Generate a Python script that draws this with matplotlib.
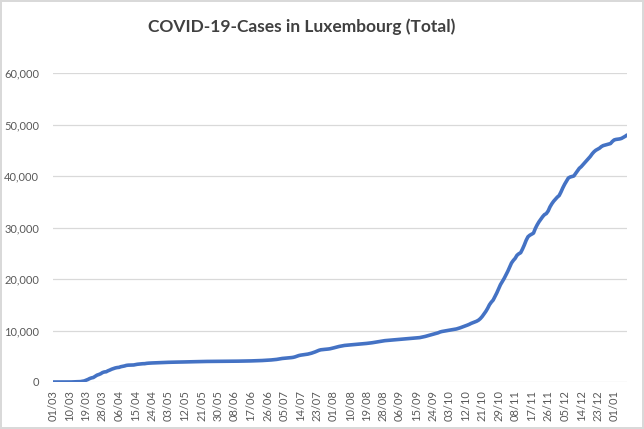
import matplotlib
matplotlib.use("Agg")
import matplotlib.pyplot as plt
import numpy as np
from matplotlib.ticker import FuncFormatter

title = "COVID-19-Cases in Luxembourg (Total)"

# Cumulative cases per reported day (one category per row, 01/03/2020 .. 08/01/2021)
cases = [
    0, 0, 1, 1, 2, 3, 4, 5, 5, 7,
    7, 26, 34, 51, 59, 77, 140, 203, 335, 484,
    670, 798, 875, 1099, 1333, 1453, 1605, 1831, 1950, 1988,
    2178, 2319, 2487, 2612, 2729, 2804, 2843, 2970, 3034, 3115,
    3223, 3270, 3281, 3292, 3307, 3373, 3444, 3480, 3537, 3550,
    3558, 3618, 3654, 3665, 3695, 3711, 3723, 3729, 3741, 3769,
    3784, 3802, 3812, 3824, 3828, 3840, 3851, 3859, 3871, 3877,
    3886, 3888, 3894, 3904, 3915, 3923, 3930, 3945, 3947, 3958,
    3971, 3980, 3981, 3990, 3993, 3995, 4001, 4008, 4012, 4016,
    4018, 4019, 4020, 4024, 4027, 4032, 4035, 4039, 4040, 4040,
    4046, 4048, 4052, 4055, 4061, 4065, 4075, 4085, 4095, 4104,
    4110, 4120, 4133, 4150, 4170, 4188, 4210, 4230, 4256, 4280,
    4310, 4345, 4390, 4450, 4520, 4570, 4600, 4630, 4660, 4700,
    4740, 4790, 4880, 5000, 5130, 5210, 5260, 5300, 5350, 5420,
    5500, 5600, 5720, 5850, 6000, 6150, 6250, 6300, 6330, 6360,
    6400, 6450, 6530, 6620, 6720, 6820, 6900, 6970, 7050, 7100,
    7140, 7170, 7200, 7230, 7260, 7290, 7320, 7350, 7380, 7410,
    7450, 7490, 7530, 7570, 7620, 7680, 7740, 7800, 7860, 7930,
    7990, 8030, 8060, 8090, 8120, 8150, 8180, 8200, 8230, 8260,
    8290, 8320, 8350, 8380, 8410, 8440, 8470, 8500, 8530, 8570,
    8620, 8690, 8760, 8850, 8950, 9050, 9150, 9250, 9350, 9450,
    9550, 9700, 9800, 9870, 9930, 9990, 10050, 10100, 10160, 10230,
    10300, 10400, 10520, 10650, 10780, 10900, 11050, 11200, 11380, 11520,
    11650, 11800, 12000, 12300, 12700, 13200, 13700, 14300, 15000, 15500,
    15900, 16600, 17300, 18100, 18900, 19500, 20100, 20800, 21500, 22300,
    23100, 23600, 24000, 24600, 24900, 25100, 25800, 26600, 27500, 28200,
    28500, 28700, 28900, 29800, 30500, 31100, 31600, 32100, 32500, 32700,
    33200, 34000, 34600, 35100, 35500, 35900, 36200, 36900, 37700, 38400,
    39000, 39600, 39800, 39900, 40000, 40500, 41000, 41500, 41800, 42200,
    42600, 43000, 43400, 43800, 44300, 44700, 45000, 45200, 45400, 45700,
    45900, 46000, 46100, 46200, 46300, 46700, 47000, 47100, 47150, 47200,
    47300, 47500, 47700, 47950,
]

# Category labels shown on the axis (every 9th category)
tick_labels = [
    "01/03", "10/03", "19/03", "28/03", "06/04", "15/04", "24/04", "03/05",
    "12/05", "21/05", "30/05", "08/06", "17/06", "26/06", "05/07", "14/07",
    "23/07", "01/08", "10/08", "19/08", "28/08", "06/09", "15/09", "24/09",
    "03/10", "12/10", "21/10", "29/10", "08/11", "17/11", "26/11", "05/12",
    "14/12", "23/12", "01/01",
]
tick_step = 9
y_ticks = [0, 10000, 20000, 30000, 40000, 50000, 60000]

text_color = "#595959"
title_color = "#404040"
grid_color = "#d9d9d9"
line_color = "#4472C4"
font = ["Lato", "DejaVu Sans"]

fig = plt.figure(figsize=(6.44, 4.29), dpi=100)
fig.patch.set_facecolor("white")
fig.patch.set_edgecolor(grid_color)
fig.patch.set_linewidth(1.5)

ax = fig.add_axes([53 / 644, 1 - 382 / 429, (627 - 53) / 644, (382 - 73) / 429])
x = np.arange(len(cases))
ax.plot(x, cases, color=line_color, linewidth=2.6, solid_capstyle="round", zorder=3)

ax.set_xlim(0, len(cases) - 1)
ax.set_ylim(0, 60000)
ax.set_yticks(y_ticks)
ax.yaxis.set_major_formatter(FuncFormatter(lambda v, p: f"{int(v):,}"))
ax.set_xticks(x[::tick_step][: len(tick_labels)])
ax.set_xticklabels(tick_labels, rotation=90)

ax.grid(axis="y", color=grid_color, linewidth=0.9, zorder=0)
ax.set_axisbelow(True)
for s in ax.spines.values():
    s.set_visible(False)
ax.tick_params(axis="both", length=0, colors=text_color, labelsize=8)
ax.tick_params(axis="y", pad=10)
ax.tick_params(axis="x", pad=6)
for lab in ax.get_xticklabels() + ax.get_yticklabels():
    lab.set_family(font)

fig.text(302 / 644, 1 - 27 / 429, title, ha="center", va="center",
         fontsize=12.5, fontweight="bold", color=title_color, family=font)

fig.savefig("out.png", dpi=100)
